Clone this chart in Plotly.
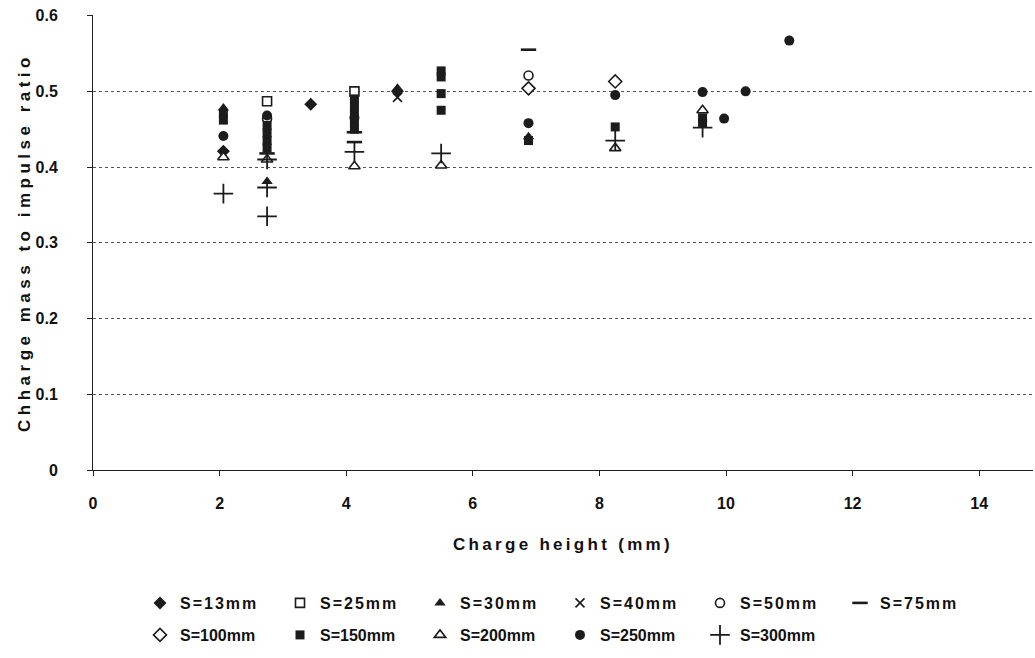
import plotly.graph_objects as go

# Charge height (mm) and charge-mass-to-impulse ratio for each stand-off distance S
s13_x = [2.06, 3.44, 4.81]
s13_y = [0.421, 0.483, 0.500]

s25_x = [2.75, 4.13]
s25_y = [0.487, 0.500]

s30_x = [2.06, 2.75, 4.81, 6.88]
s30_y = [0.478, 0.381, 0.504, 0.440]

s40_x = [4.81]
s40_y = [0.492]

s50_x = [2.75, 6.88]
s50_y = [0.464, 0.521]

s75_x = [2.75, 4.13, 4.13, 6.88]
s75_y = [0.418, 0.446, 0.433, 0.555]

s100_x = [6.88, 8.25]
s100_y = [0.504, 0.513]

s150_x = [2.06, 2.06, 2.75, 2.75, 2.75, 2.75, 4.13, 4.13, 4.13, 4.13, 4.13,
          5.50, 5.50, 5.50, 5.50, 6.88, 8.25, 9.63, 9.63]
s150_y = [0.470, 0.462, 0.455, 0.445, 0.435, 0.425, 0.490, 0.480, 0.470, 0.460, 0.450,
          0.527, 0.519, 0.497, 0.475, 0.435, 0.453, 0.465, 0.458]

s200_x = [2.06, 2.75, 4.13, 5.50, 8.25, 9.63]
s200_y = [0.413, 0.410, 0.401, 0.402, 0.425, 0.475]

s250_x = [2.06, 2.75, 4.13, 6.88, 8.25, 9.63, 9.97, 10.31, 11.00]
s250_y = [0.441, 0.468, 0.465, 0.458, 0.495, 0.499, 0.464, 0.500, 0.567]

s300_x = [2.06, 2.75, 2.75, 2.75, 4.13, 5.50, 8.25, 9.63]
s300_y = [0.365, 0.410, 0.373, 0.335, 0.420, 0.418, 0.435, 0.452]

INK = "#1c1c1c"
FONT = "Liberation Sans, Arial, sans-serif"

# (name, x, y, symbol, size, fill, line width, legend)
series = [
    ("S=13mm", s13_x, s13_y, "diamond", 10, INK, 0, "legend"),
    ("S=25mm", s25_x, s25_y, "square", 9, "white", 1.6, "legend"),
    ("S=30mm", s30_x, s30_y, "triangle-up", 10, INK, 0, "legend"),
    ("S=40mm", s40_x, s40_y, "x-thin", 9, INK, 1.6, "legend"),
    ("S=50mm", s50_x, s50_y, "circle", 9, "white", 1.6, "legend"),
    ("S=75mm", s75_x, s75_y, "line-ew", 11, INK, 2.6, "legend"),
    ("S=100mm", s100_x, s100_y, "diamond", 10, "white", 1.6, "legend2"),
    ("S=150mm", s150_x, s150_y, "square", 9, INK, 0, "legend2"),
    ("S=200mm", s200_x, s200_y, "triangle-up", 10, "white", 1.6, "legend2"),
    ("S=250mm", s250_x, s250_y, "circle", 10, INK, 0, "legend2"),
    ("S=300mm", s300_x, s300_y, "cross-thin", 14, INK, 1.8, "legend2"),
]

fig = go.Figure()
for name, xs, ys, sym, size, fill, lw, leg in series:
    fig.add_trace(go.Scatter(
        x=xs, y=ys, mode="markers", name=name, legend=leg,
        marker=dict(symbol=sym, size=size, color=fill,
                    line=dict(color=INK, width=lw)),
    ))

W, H = 1035, 658
legend_common = dict(
    orientation="h", xref="container", yref="container",
    xanchor="left", yanchor="middle",
    font=dict(family=FONT, size=16, color="#111", weight="bold"),
    entrywidth=95, itemwidth=30, bgcolor="rgba(0,0,0,0)",
    itemclick=False, itemdoubleclick=False,
)

fig.update_layout(
    width=W, height=H,
    margin=dict(l=93, r=2, t=15, b=188),
    paper_bgcolor="white", plot_bgcolor="white",
    font=dict(family=FONT, color="#111"),
    legend=dict(x=140 / W, y=1 - 603 / H, **legend_common),
    legend2=dict(x=140 / W, y=1 - 635 / H, **legend_common),
    xaxis=dict(
        range=[0, 14.85], dtick=2, tick0=0,
        showgrid=False, zeroline=False,
        showline=True, linecolor="#222", linewidth=1,
        ticks="outside", ticklen=5, tickcolor="#222",
        ticklabelstandoff=14,
        tickfont=dict(family=FONT, size=16, color="#111", weight="bold"),
        title=dict(text="Charge height (mm)", standoff=26,
                   font=dict(family=FONT, size=17, color="#111", weight="bold")),
    ),
    yaxis=dict(
        range=[0, 0.6008], tickvals=[0, 0.1, 0.2, 0.3, 0.4, 0.5, 0.6],
        ticktext=["0", "0.1", "0.2", "0.3", "0.4", "0.5", "0.6"],
        showgrid=True, gridcolor="#555", gridwidth=1, griddash="3px,3px",
        zeroline=False,
        showline=True, linecolor="#222", linewidth=1,
        ticks="outside", ticklen=5, tickcolor="#222",
        ticklabelstandoff=26,
        tickfont=dict(family=FONT, size=16, color="#111", weight="bold"),
        title=dict(text="Chharge mass to impulse ratio", standoff=0,
                   font=dict(family=FONT, size=17, color="#111", weight="bold")),
    ),
    showlegend=True,
)

# Wider tracking on the legend entries and axis titles
tracking = """
var gd = document.getElementById('{plot_id}');
function track() {
  gd.querySelectorAll('.legendtext').forEach(function (t) { t.style.letterSpacing = '2px'; });
  gd.querySelectorAll('.g-xtitle text').forEach(function (t) { t.style.letterSpacing = '3.3px'; });
  gd.querySelectorAll('.g-ytitle text').forEach(function (t) { t.style.letterSpacing = '4.5px'; });
}
track();
gd.on('plotly_afterplot', track);
"""

fig.write_html("out.html", post_script=tracking)
